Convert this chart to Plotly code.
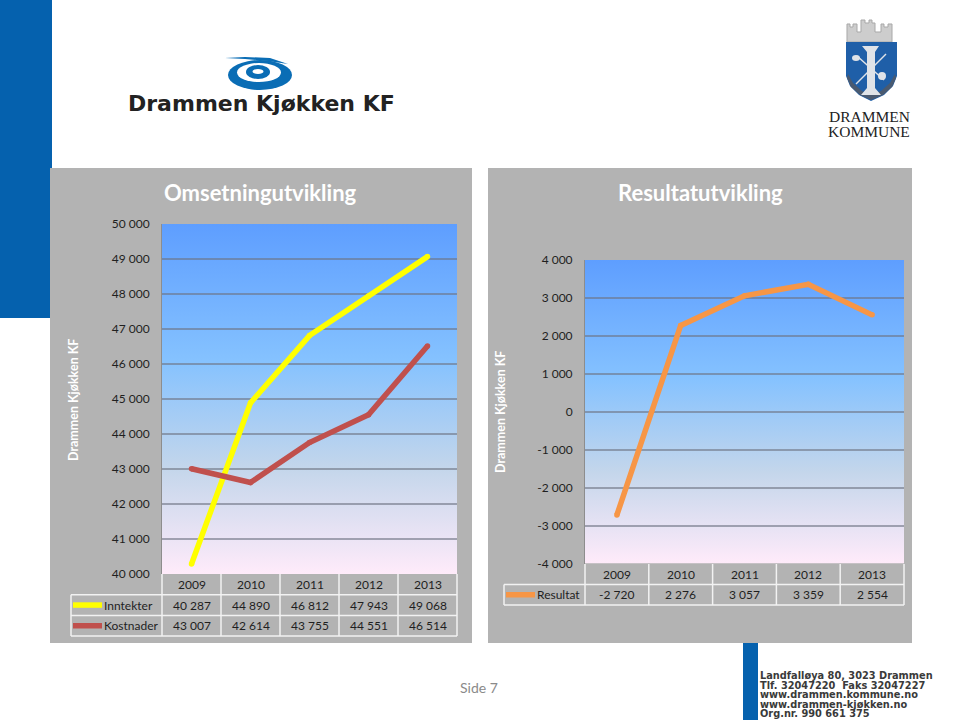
"""Drammen Kjøkken KF slide: revenue and result charts with data tables."""

import base64

import plotly.graph_objects as go

W, H = 960, 720

years = ["2009", "2010", "2011", "2012", "2013"]
inntekter = [40287, 44890, 46812, 47943, 49068]
kostnader = [43007, 42614, 43755, 44551, 46514]
resultat = [-2720, 2276, 3057, 3359, 2554]

left_ticks = [40000, 41000, 42000, 43000, 44000, 45000, 46000, 47000, 48000, 49000, 50000]
right_ticks = [-4000, -3000, -2000, -1000, 0, 1000, 2000, 3000, 4000]

footer_lines = [
    "Landfalløya 80, 3023 Drammen",
    "Tlf. 32047220  Faks 32047227",
    "www.drammen.kommune.no",
    "www.drammen-kjøkken.no",
    "Org.nr. 990 661 375",
]

PANEL = "#b3b3b3"
BLUE = "#0561ae"
TEXT = "#1f1f1f"
YELLOW = "#ffff00"
RED = "#c0504d"
ORANGE = "#f79646"
FONT = "Lato"
CELL_SIZE = 12


def thousands(value):
    return f"{value:,}".replace(",", " ")


def px(x):
    return x / W


def py(y):
    return 1 - y / H


shapes = []
annotations = []


def rect(x0, y0, x1, y1, fill, line=None, width=1):
    shapes.append(dict(
        type="rect", xref="paper", yref="paper", layer="below",
        x0=px(x0), x1=px(x1), y0=py(y0), y1=py(y1),
        fillcolor=fill, line=dict(color=line or fill, width=width if line else 0),
    ))


def ellipse(cx, cy, rx, ry, fill):
    shapes.append(dict(
        type="circle", xref="paper", yref="paper", layer="below",
        x0=px(cx - rx), x1=px(cx + rx), y0=py(cy - ry), y1=py(cy + ry),
        fillcolor=fill, line=dict(width=0),
    ))


def segment(x0, y0, x1, y1, color, width=1.5):
    shapes.append(dict(
        type="line", xref="paper", yref="paper", layer="below",
        x0=px(x0), x1=px(x1), y0=py(y0), y1=py(y1),
        line=dict(color=color, width=width),
    ))


def poly(points, fill, line_color=None, line_width=0):
    path = "M " + " L ".join(f"{px(x):.5f},{py(y):.5f}" for x, y in points) + " Z"
    shapes.append(dict(
        type="path", xref="paper", yref="paper", layer="below", path=path,
        fillcolor=fill, line=dict(color=line_color or fill, width=line_width),
    ))


def label(x, y, text, size=CELL_SIZE, color=TEXT, family=FONT, anchor="center", xref="paper", angle=0):
    annotations.append(dict(
        x=x if xref != "paper" else px(x), y=py(y), xref=xref, yref="paper",
        text=text, showarrow=False, xanchor=anchor, yanchor="middle", textangle=angle,
        font=dict(size=size, color=color, family=family),
    ))


def data_table(x_ref, label_left, plot_left, plot_right, top, row_h, rows):
    """White-ruled table under a chart; rows is [(name, values, colour)]."""
    col_w = (plot_right - plot_left) / len(years)
    bottom = top + row_h * (len(rows) + 1)
    for i in range(len(years) + 1):
        segment(plot_left + i * col_w, top, plot_left + i * col_w, bottom, "#f2f2f2")
    for i in range(1, len(rows) + 2):
        segment(label_left, top + i * row_h, plot_right, top + i * row_h, "#f2f2f2")
    segment(label_left, top + row_h, label_left, bottom, "#f2f2f2")
    # category axes place annotations by serial number, not by category text
    for i, year in enumerate(years):
        label(i, top + row_h / 2, year, xref=x_ref)
    for r, (name, values, color) in enumerate(rows):
        y = top + row_h * (r + 1.5)
        segment(label_left + 2, y, label_left + 31, y, color, width=5.5)
        label(label_left + 30.5, y, name, anchor="left")
        for i, value in enumerate(values):
            label(i, y, thousands(value), xref=x_ref)


# slide furniture
rect(0, 0, 52, 318, BLUE)
rect(743, 643, 758, 720, BLUE)
rect(50, 168, 472, 643, PANEL)
rect(488, 168, 912, 643, PANEL)

# Drammen Kjøkken logo
ellipse(260, 75, 32, 15, "#0a6db5")
ellipse(259, 72.5, 22, 9.5, "#ffffff")
ellipse(258, 72, 12, 7, "#0a6db5")
ellipse(258, 71.5, 5.5, 2.6, "#ffffff")
poly([(225, 58), (245, 57), (270, 58), (288, 64), (268, 61), (245, 59)], "#0a6db5")
label(261, 104, "<b>Drammen Kjøkken KF</b>", size=22, color="#222222", family="DejaVu Sans")

# Drammen kommune coat of arms
poly([(847, 42), (847, 24), (850, 24), (850, 27), (853, 27), (853, 24), (857, 24), (857, 32), (861, 32),
      (861, 20), (865, 20), (865, 23), (869, 23), (869, 20), (872, 20), (872, 23), (875, 23), (875, 32),
      (881, 32), (881, 24), (884, 24), (884, 27), (888, 27), (888, 24), (892, 24), (892, 42)],
     "#cdcdcd", "#a8a8a8", 1)
poly([(846, 42), (897, 42), (897, 76), (893, 86), (884, 95), (871, 101), (859, 95), (850, 86), (846, 76)],
     "#1f5fa8")
poly([(848, 74), (853, 83), (862, 91), (871, 95), (881, 91), (890, 83), (895, 74), (896, 78), (892, 87),
      (883, 95), (871, 100), (860, 95), (851, 87), (847, 78)], "#4a5a70")
segment(856, 84, 886, 54, "#dfe3e8", 1.5)
segment(857, 56, 884, 80, "#dfe3e8", 1.5)
poly([(862, 46), (879, 46), (875, 52), (875, 88), (881, 95), (861, 95), (867, 88), (867, 52)], "#dfe3e8")
ellipse(856, 58, 4, 3, "#dfe3e8")
ellipse(882, 76, 4, 4, "#dfe3e8")
label(869, 117, "DRAMMEN", size=15.5, color="#222222", family="Liberation Serif")
label(869, 131, "KOMMUNE", size=15.5, color="#222222", family="Liberation Serif")

# chart headings and side labels
label(260, 193, "<b>Omsetningutvikling</b>", size=22, color="#ffffff")
label(700, 193, "<b>Resultatutvikling</b>", size=22, color="#ffffff")
for x, y in ((73, 400), (500, 412)):
    label(x, y, "<b>Drammen Kjøkken KF</b>", size=12.5, color="#ffffff", angle=-90)

data_table("x", 71, 162, 457, 574, 20.7,
           [("Inntekter", inntekter, YELLOW), ("Kostnader", kostnader, RED)])
data_table("x2", 504, 585, 904, 564, 20.5, [("Resultat", resultat, ORANGE)])

# footer
label(479, 687, "Side 7", size=14, color="#8a8a8a")
for i, line in enumerate(footer_lines):
    label(758, 675.5 + i * 9.6, f"<b>{line}</b>", size=9.8, color="#3a3a3a", family="DejaVu Sans", anchor="left")

fig = go.Figure()
series = [
    ("Inntekter", inntekter, YELLOW, "x", "y"),
    ("Kostnader", kostnader, RED, "x", "y"),
    ("Resultat", resultat, ORANGE, "x2", "y2"),
]
for name, values, color, xaxis, yaxis in series:
    fig.add_trace(go.Scatter(
        x=years, y=values, name=name, xaxis=xaxis, yaxis=yaxis, mode="lines+markers",
        line=dict(color=color, width=5.5), marker=dict(color=color, size=5.5),
        showlegend=False, cliponaxis=False,
    ))

gradient_svg = (
    '<svg xmlns="http://www.w3.org/2000/svg" width="100" height="100" preserveAspectRatio="none">'
    '<defs><linearGradient id="g" x1="0" y1="0" x2="0" y2="1">'
    '<stop offset="0" stop-color="#5e9eff"/><stop offset="0.39" stop-color="#85c2ff"/>'
    '<stop offset="0.7" stop-color="#c4d6eb"/><stop offset="1" stop-color="#ffebfa"/>'
    '</linearGradient></defs><rect width="100" height="100" fill="url(#g)"/></svg>'
)
gradient_uri = "data:image/svg+xml;base64," + base64.b64encode(gradient_svg.encode()).decode()


def backdrop(x_ref, y_ref):
    return dict(
        source=gradient_uri, xref=f"{x_ref} domain", yref=f"{y_ref} domain",
        x=0, y=1, sizex=1, sizey=1, sizing="stretch", layer="below",
        xanchor="left", yanchor="top",
    )


def y_axis(ticks, domain):
    return dict(
        domain=domain, range=[ticks[0], ticks[-1]], tickmode="array", tickvals=ticks,
        ticktext=[thousands(v) for v in ticks], ticks="", ticklabelstandoff=9, automargin=False,
        tickfont=dict(family=FONT, size=CELL_SIZE, color=TEXT), showgrid=True,
        gridcolor="rgba(110,115,130,0.6)", gridwidth=1.5, zeroline=False,
        showline=True, linecolor="#8d8d8d", linewidth=1, fixedrange=True,
    )


def x_axis(domain, anchor):
    return dict(
        domain=domain, anchor=anchor, type="category", categoryorder="array", categoryarray=years,
        range=[-0.5, len(years) - 0.5], showticklabels=False, ticks="", showgrid=False,
        zeroline=False, showline=False, fixedrange=True, automargin=False,
    )


fig.update_layout(
    width=W, height=H, autosize=False, margin=dict(l=0, r=0, t=0, b=0, pad=0),
    paper_bgcolor="#ffffff", plot_bgcolor="rgba(0,0,0,0)", showlegend=False, hovermode=False,
    xaxis=x_axis([px(162), px(457)], "y"),
    yaxis=y_axis(left_ticks, [py(574), py(224)]),
    xaxis2=x_axis([px(585), px(904)], "y2"),
    yaxis2=dict(y_axis(right_ticks, [py(563.5), py(260)]), anchor="x2"),
    shapes=shapes, annotations=annotations,
    images=[backdrop("x", "y"), backdrop("x2", "y2")],
)

fig.write_html("out.html", config=dict(displayModeBar=False),
               post_script="document.body.style.margin='0';")
